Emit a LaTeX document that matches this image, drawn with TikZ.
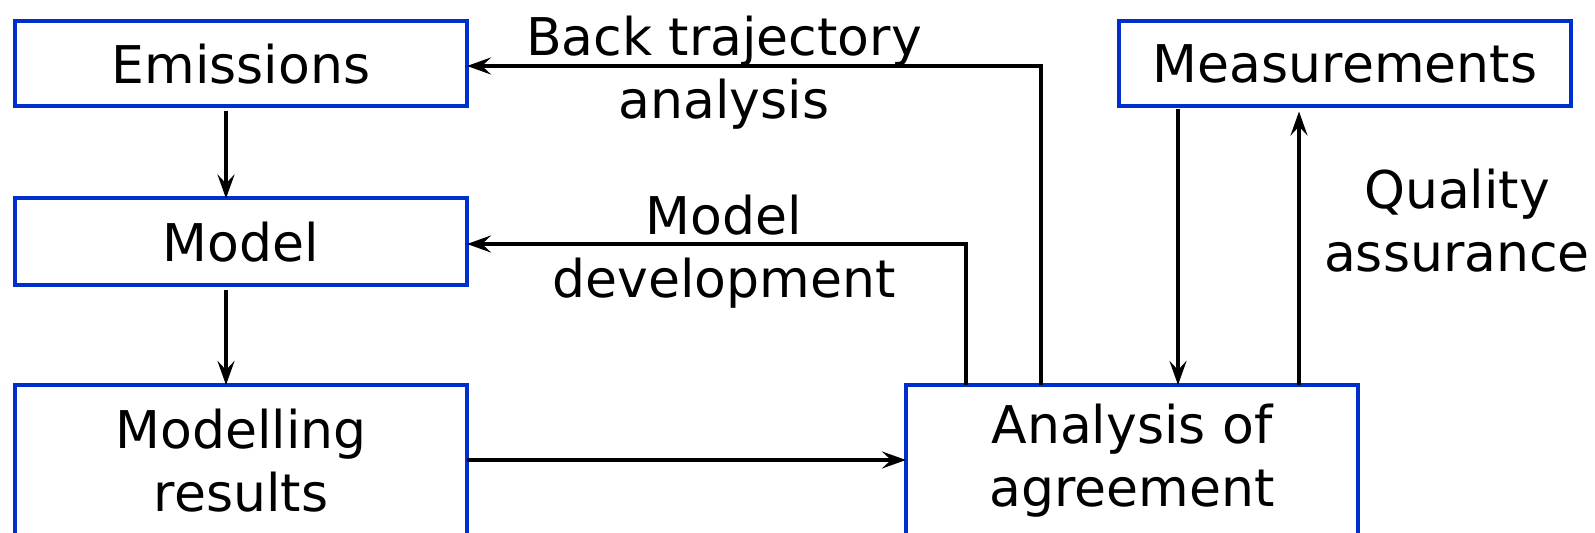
\documentclass[tikz,border=0pt]{standalone}
\usepackage{fontspec}
\setmainfont{DejaVu Sans}
\usetikzlibrary{arrows.meta}
\definecolor{boxblue}{RGB}{0,48,204}
\newcommand{\lblfont}{\fontsize{26}{31.5}\selectfont}
\tikzset{
  box/.style={draw=boxblue, line width=2pt, minimum width=226pt,
    inner sep=0pt, outer sep=0pt, align=center, font=\lblfont},
  conn/.style={line width=1.75pt,
    -{Stealth[length=12pt,width=8.5pt,inset=4.5pt]}},
  lbl/.style={align=center, font=\lblfont, inner sep=0pt}
}
\begin{document}
\begin{tikzpicture}[x=0.5pt,y=-0.5pt]
  \useasboundingbox (0,0) rectangle (1595,533);
  \clip (0,0) rectangle (1595,533);

  % boxes
  \node[box, minimum height=42.5pt] (em) at (241,64)   {Emissions};
  \node[box, minimum height=43.5pt] (mo) at (241,242)  {Model};
  \node[box, minimum height=76pt]   (mr) at (241,461)  {Modelling\\results};
  \node[box, minimum height=76pt]   (an) at (1132,461) {Analysis of\\agreement};
  \node[box, minimum height=42.5pt] (me) at (1345,64)  {Measurements};

  % routing columns and rows
  \coordinate (colL) at (226,0);
  \coordinate (bt)   at (1041,66);
  \coordinate (md)   at (966,244);
  \coordinate (qd)   at (1178,0);
  \coordinate (qu)   at (1299,0);

  % model chain
  \draw[conn, shorten <=2.5pt] (em.south -| colL) -- (mo.north -| colL);
  \draw[conn, shorten <=2.5pt] (mo.south -| colL) -- (mr.north -| colL);
  \draw[conn] (mr.east |- 0,460) -- (an.west |- 0,460);

  % feedback loops from the analysis
  \draw[conn] (an.north -| bt) -- (bt) -- (em.east |- bt);
  \draw[conn] (an.north -| md) -- (md) -- (mo.east |- md);

  % measurements and quality assurance
  \draw[conn, shorten <=1.5pt] (me.south -| qd) -- (an.north -| qd);
  \draw[conn, shorten >=2.5pt] (an.north -| qu) -- (me.south -| qu);

  % labels
  \node[lbl] (lbt) at (724,73)    {Back trajectory\\analysis};
  \node[lbl] (lmd) at (724,251.5) {Model\\development};
  \node[lbl] (lqa) at (1457,221)  {Quality\\assurance};
\end{tikzpicture}
\end{document}
